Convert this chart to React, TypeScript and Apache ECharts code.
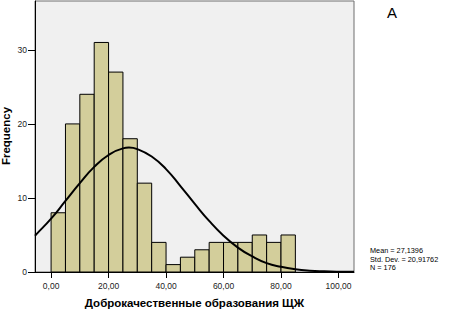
import React, { useEffect, useRef } from "react";
import * as echarts from "echarts";

// Histogram bins: [start, end]
const binStarts = [0, 5, 10, 15, 20, 25, 30, 35, 40, 45, 50, 55, 60, 65, 70, 75, 80];
const binWidth = 5;
const frequencies = [8, 20, 24, 31, 27, 18, 12, 4, 1, 2, 3, 4, 4, 4, 5, 4, 5];

// Normal curve points
const curveX = [-5.6, -5, 0, 5, 10, 15, 20, 25, 27.1, 30, 35, 40, 45, 50, 55, 60, 65, 70, 75, 80, 85, 90, 95, 100, 105.4];
const curveY = [4.9, 5.15, 7.2, 9.6, 12.0, 14.2, 15.8, 16.7, 16.8, 16.6, 15.6, 13.9, 11.6, 9.2, 6.9, 4.9, 3.3, 2.1, 1.2, 0.7, 0.37, 0.18, 0.09, 0.04, 0.02];

const xTicks = [0, 20, 40, 60, 80, 100];
const yTicks = [0, 10, 20, 30];

const statLines = ["Mean = 27,1396", "Std. Dev. = 20,91762", "N = 176"];
const xTitle = "Доброкачественные образования ЩЖ";
const yTitle = "Frequency";
const panelLabel = "A";

const FONT = "'Liberation Sans', Arial, sans-serif";

export default function App() {
  const ref = useRef<HTMLDivElement>(null);
  useEffect(() => {
    if (!ref.current) return;
    document.body.style.margin = "0";
    const chart = echarts.init(ref.current, null, { renderer: "svg" });
    const barData = binStarts.map((s, i) => [s, s + binWidth, frequencies[i]]);
    const lineData = curveX.map((x, i) => [x, curveY[i]]);
    chart.setOption({
      animation: false,
      backgroundColor: "#fff",
      grid: {
        left: 35,
        top: 1,
        width: 319,
        height: 271,
        containLabel: false,
        outerBoundsMode: "none",
        show: true,
        backgroundColor: "#F0F0F0",
        borderColor: "#6e6e6e",
        borderWidth: 1,
      },
      xAxis: {
        type: "value",
        min: -5.6,
        max: 105.4,
        name: xTitle,
        nameLocation: "middle",
        nameGap: 25,
        nameTextStyle: { fontFamily: FONT, fontSize: 11.5, fontWeight: "bold", color: "#000" },
        axisLine: { show: true, onZero: false, lineStyle: { color: "#000", width: 1 } },
        axisTick: { show: true, length: 6, customValues: xTicks, lineStyle: { color: "#000" } },
        axisLabel: {
          customValues: xTicks,
          fontFamily: FONT,
          fontSize: 8.5,
          color: "#222",
          margin: 9,
          formatter: (v: number) => v.toFixed(2).replace(".", ","),
        },
        splitLine: { show: false },
      },
      yAxis: {
        type: "value",
        min: 0,
        max: 36.6,
        axisLine: { show: true, onZero: false, lineStyle: { color: "#000", width: 1 } },
        axisTick: { show: true, length: 7, customValues: yTicks, lineStyle: { color: "#000" } },
        axisLabel: {
          customValues: yTicks,
          fontFamily: FONT,
          fontSize: 8.5,
          color: "#222",
          margin: 8,
        },
        splitLine: { show: false },
      },
      series: [
        {
          type: "custom",
          data: barData,
          encode: { x: [0, 1], y: 2 },
          renderItem: (params: any, api: any) => {
            const p0 = api.coord([api.value(0), 0]);
            const p1 = api.coord([api.value(1), api.value(2)]);
            return {
              type: "rect",
              shape: { x: p0[0], y: p1[1], width: p1[0] - p0[0], height: p0[1] - p1[1] },
              style: { fill: "#D3CE9B", stroke: "#000", lineWidth: 1 },
            };
          },
          z: 2,
        },
        {
          type: "line",
          data: lineData,
          smooth: true,
          symbol: "none",
          lineStyle: { color: "#000", width: 2 },
          z: 3,
        },
      ],
      graphic: [
        {
          type: "text",
          x: 6,
          y: 136,
          rotation: Math.PI / 2,
          style: {
            text: yTitle,
            font: `bold 11.5px ${FONT}`,
            fill: "#000",
            align: "center",
            verticalAlign: "middle",
          },
        },
        {
          type: "text",
          left: 387,
          top: 5,
          style: { text: panelLabel, font: `15px ${FONT}`, fill: "#000" },
        },
        ...statLines.map((t, i) => ({
          type: "text",
          left: 370,
          top: 247 + i * 8.7,
          style: { text: t, font: `7.3px ${FONT}`, fill: "#000" },
        })),
      ],
    });
    return () => chart.dispose();
  }, []);
  return <div ref={ref} style={{ width: 449, height: 311, position: "absolute", left: 0, top: 0 }} />;
}
